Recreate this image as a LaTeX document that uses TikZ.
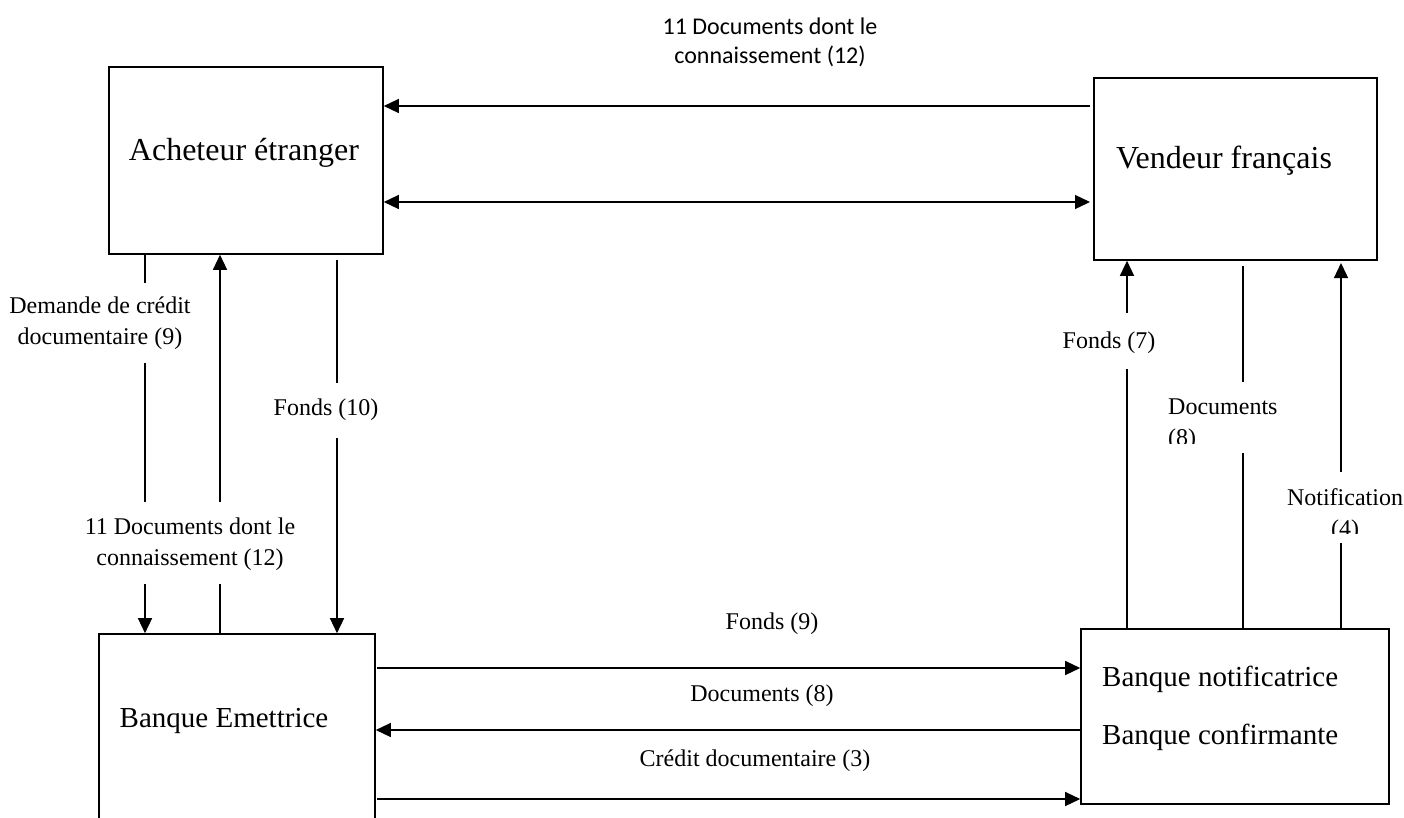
\documentclass[tikz,border=0pt]{standalone}
\usepackage{fontspec}
\setmainfont{Liberation Serif}
\newfontfamily\calib{Carlito}
\usetikzlibrary{arrows.meta}
\begin{document}
\begin{tikzpicture}[x=1pt,y=-1pt,
  box/.style={draw, line width=1.6pt, inner sep=0pt},
  conn/.style={line width=1.3pt},
  arr/.style={conn, -{Triangle[length=15pt,width=14pt]}},
  darr/.style={conn, {Triangle[length=15pt,width=14pt]}-{Triangle[length=15pt,width=14pt]}},
  boxtxt/.style={font=\fontsize{32}{38}\selectfont, inner sep=0pt},
  boxtxtb/.style={font=\fontsize{29}{35}\selectfont, inner sep=0pt},
  lbl/.style={font=\fontsize{24}{31}\selectfont, inner sep=0pt, align=center},
  toplbl/.style={font=\calib\fontsize{24}{29}\selectfont, inner sep=0pt, align=center},
]
\clip (0,0) rectangle (1404,817);
\fill[white] (0,0) rectangle (1404,817);

% boxes
\node[box, minimum width=274pt, minimum height=187pt] (ach) at (246,160.5) {};
\node[box, minimum width=283pt, minimum height=182pt] (ven) at (1235.5,169) {};
\node[box, minimum width=276pt, minimum height=266pt] (emi) at (237,767) {};
\node[box, minimum width=308pt, minimum height=175pt] (bnc) at (1235,716.5) {};

% box texts
\node[boxtxt, anchor=base] (achT) at (244,160) {Acheteur étranger};
\node[boxtxt, anchor=base] (venT) at (1224,168) {Vendeur français};
\node[boxtxtb, anchor=base] (emiT) at (224,727) {Banque Emettrice};
\node[boxtxtb, anchor=base west] (bnc1) at (1102,686) {Banque notificatrice};
\node[boxtxtb, anchor=base west] (bnc2) at (1102,744) {Banque confirmante};

% coordinates
\coordinate (d1) at (145,283); \coordinate (d2) at (145,363);
\coordinate (d3) at (145,502); \coordinate (d4) at (145,584);
\coordinate (u1) at (220,584); \coordinate (u2) at (220,502);
\coordinate (f1) at (337,260); \coordinate (f2) at (337,383); \coordinate (f3) at (337,438);
\coordinate (r1) at (1127,369); \coordinate (r2) at (1127,313);
\coordinate (m1) at (1243,266); \coordinate (m2) at (1243,382); \coordinate (m3) at (1243,453);
\coordinate (n1) at (1341,543); \coordinate (n2) at (1341,472); \coordinate (n3) at (1341,263);
\coordinate (t1) at (1090,106); \coordinate (t2) at (1090,202);
\coordinate (b1) at (377,668); \coordinate (b2) at (700,730); \coordinate (b3) at (377,799);

% top connectors
\draw[arr] (t1) -- (ach.east |- t1);
\draw[darr] (ach.east |- t2) -- (t2);

% left connectors
\draw[conn] (ach.south -| d1) -- (d1);
\draw[conn] (d2) -- (d3);
\draw[arr] (d4) -- (emi.north -| d4);
\draw[conn] (emi.north -| u1) -- (u1);
\draw[arr] (u2) -- (ach.south -| u2);
\draw[conn] (f1) -- (f2);
\draw[arr] (f3) -- (emi.north -| f3);

% right connectors
\draw[conn] (bnc.north -| r1) -- (r1);
\draw[arr] (r2) -- (ven.south -| r2);
\draw[conn] (m1) -- (m2);
\draw[conn] (m3) -- (bnc.north -| m3);
\draw[conn] (bnc.north -| n1) -- (n1);
\draw[arr] (n2) -- (n3);

% bottom connectors
\draw[arr] (b1) -- (bnc.west |- b1);
\draw[arr] (bnc.west |- b2) -- (emi.east |- b2);
\draw[arr] (b3) -- (bnc.west |- b3);

% labels
\node[toplbl] (topL) at (770,42) {11 Documents dont le\\connaissement (12)};
\node[lbl] (demL) at (100,323) {Demande de crédit\\documentaire (9)};
\node[lbl, anchor=base] (fonds10) at (326,415) {Fonds (10)};
\node[lbl] (docs11) at (190,544) {11 Documents dont le\\connaissement (12)};
\node[lbl, anchor=base] (fonds7) at (1109,348) {Fonds (7)};
\begin{scope}
  \clip (1150,380) rectangle (1300,443);
  \node[lbl, align=left, anchor=north west] (docs8) at (1168,398.6) {Documents\\(8)};
\end{scope}
\begin{scope}
  \clip (1270,470) rectangle (1404,533);
  \node[lbl, anchor=north] (notif) at (1345,488.6) {Notification\\(4)};
\end{scope}
\node[lbl] (fonds9) at (772,624) {Fonds (9)};
\node[lbl] (docs8b) at (762,696) {Documents (8)};
\node[lbl] (credit3) at (755,761) {Crédit documentaire (3)};
\end{tikzpicture}
\end{document}
